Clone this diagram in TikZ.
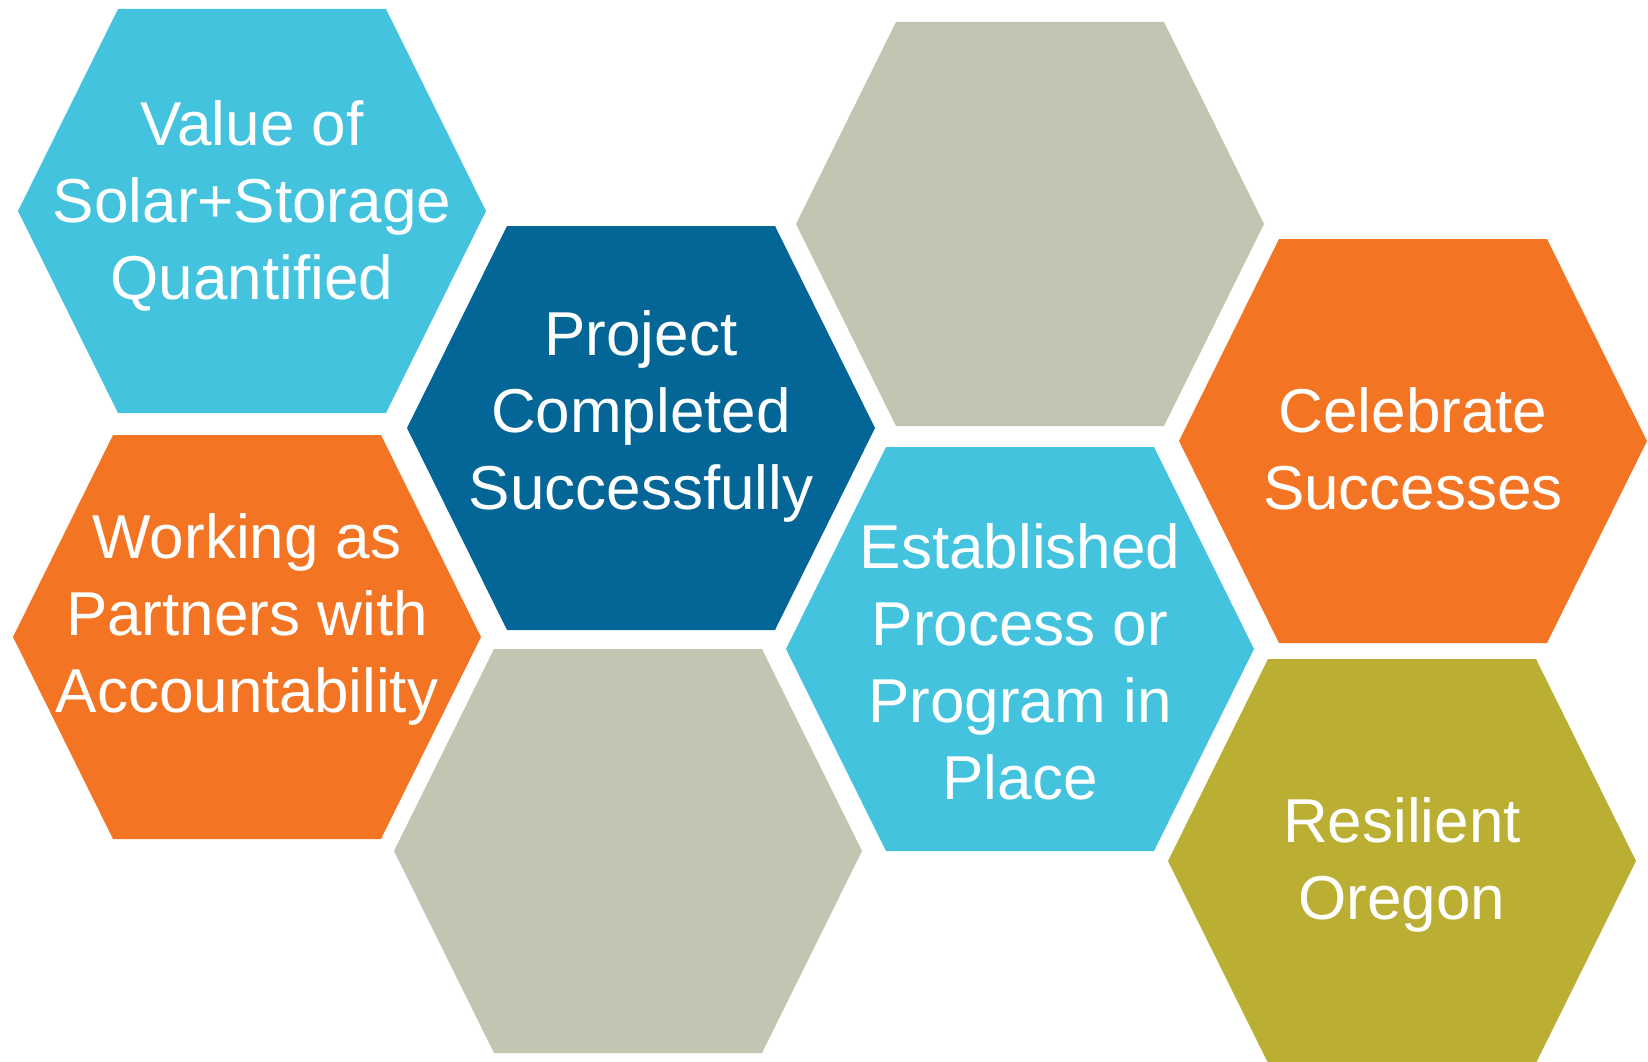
\documentclass[tikz,border=0pt]{standalone}
\usepackage{fontspec}
\setmainfont{Liberation Sans}
\usepackage{tikz}
\definecolor{cellcyan}{HTML}{43C3DE}
\definecolor{cellnavy}{HTML}{036696}
\definecolor{cellorange}{HTML}{F37523}
\definecolor{cellolive}{HTML}{BBAF33}
\definecolor{cellgray}{HTML}{C3C4B1}
\tikzset{
  cell/.style={fill=#1},
  cell text/.style={text=white,align=center,inner sep=0pt,
    font=\fontsize{62}{77}\selectfont}
}

\begin{document}
\begin{tikzpicture}[x=1pt,y=-1pt]
  \useasboundingbox (0,0) rectangle (1648,1062);
  % the honeycomb: centre and fill of each cell
  \foreach \name/\cx/\cy/\col in {value/252/211/cellcyan,
      project/641/428/cellnavy, blanktop/1030/224/cellgray,
      celebrate/1413/441/cellorange, partners/247/637/cellorange,
      blankbottom/628/851/cellgray, process/1020/649/cellcyan,
      resilient/1402/861/cellolive} {
    \coordinate (\name) at (\cx,\cy);
    \fill[cell=\col,shift={(\name)}] (-234,0) -- (-134,-202) -- (134,-202)
      -- (234,0) -- (134,202) -- (-134,202) -- cycle;
  }
  \node[cell text] (value text) at ([yshift=5pt]value)
    {Value of\\Solar+Storage\\Quantified};
  \node[cell text] (project text) at ([yshift=12pt]project)
    {Project\\Completed\\Successfully};
  \node[cell text] (celebrate text) at ([yshift=-8pt]celebrate)
    {Celebrate\\Successes};
  \node[cell text] (partners text) at ([yshift=18pt]partners)
    {Working as\\Partners with\\Accountability};
  \node[cell text] (process text) at ([yshift=-13pt]process)
    {Established\\Process or\\Program in\\Place};
  \node[cell text] (resilient text) at ([yshift=-4pt]resilient)
    {Resilient\\Oregon};
\end{tikzpicture}
\end{document}
